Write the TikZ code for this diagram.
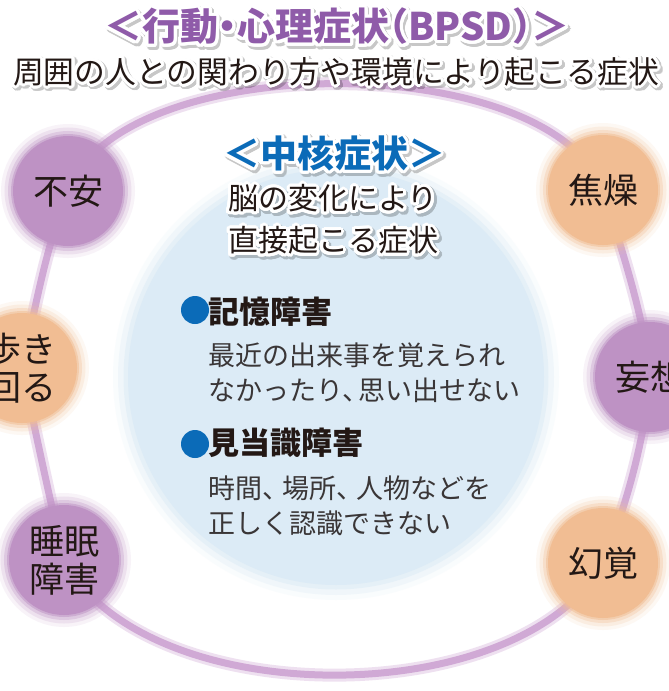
\documentclass[tikz,border=0pt]{standalone}
\usepackage{fontspec}
\setmainfont{Noto Sans CJK JP}
\usepackage{contour}
\contourlength{3pt}
\contournumber{32}
\definecolor{ringc}{HTML}{D0A9D5}
\definecolor{purpn}{HTML}{BE92C4}
\definecolor{orgn}{HTML}{F1BD93}
\definecolor{bluebg}{HTML}{DCEBF6}
\definecolor{titlep}{HTML}{8F5BA9}
\definecolor{blueh}{HTML}{0B6BB8}
\definecolor{txt}{HTML}{231815}
\definecolor{bodytxt}{HTML}{3A3637}
\pgfdeclarelayer{back}
\pgfdeclarelayer{ringlayer}
\pgfsetlayers{back,ringlayer,main}
\tikzset{
  ring/.style={draw=ringc, line width=7pt, preaction={draw=ringc, line width=13pt, draw opacity=.35}},
  softnode/.style={circle, inner sep=0pt, minimum size=110pt, text=txt, align=center,
    font=\fontsize{35}{38}\selectfont,
    preaction={draw=#1, line width=24pt, draw opacity=.10},
    preaction={draw=#1, line width=17pt, draw opacity=.18},
    preaction={draw=#1, line width=10pt, draw opacity=.3},
    preaction={draw=#1, line width=4pt, draw opacity=.5},
    fill=#1},
  titletxt/.style={text=titlep, inner sep=0pt, font=\fontsize{38}{40}\selectfont\bfseries},
  subtxt/.style={text=txt, inner sep=0pt, font=\fontsize{30.8}{32}\selectfont},
  coretitle/.style={text=blueh, inner sep=0pt, font=\fontsize{37}{38}\selectfont\bfseries},
  coretxt/.style={text=txt, inner sep=0pt, font=\fontsize{30}{32}\selectfont},
  shadowtxt/.style={text=black, inner sep=0pt},
  bulletdot/.style={circle, fill=blueh, inner sep=0pt, minimum size=28pt},
  headtxt/.style={text=txt, inner sep=0pt, anchor=west, font=\fontsize{31}{32}\selectfont\bfseries},
  bodyline/.style={text=bodytxt, inner sep=0pt, anchor=west, font=\fontsize{27}{30}\selectfont},
}
\newcommand\titlestr{＜行動\kern-.25em・\kern-.25em 心理症状\kern-.5em（BPSD）\kern-.5em＞}
\newcommand\substr{周囲の人との関わり方や環境により起こる症状}
\begin{document}
\begin{tikzpicture}[x=1pt,y=-1pt]
\useasboundingbox (0,0) rectangle (669,691);
\begin{pgfonlayer}{back}
\fill[white] (0,0) rectangle (669,691);
\fill[bluebg,
  preaction={draw=bluebg, line width=30pt, draw opacity=.15},
  preaction={draw=bluebg, line width=20pt, draw opacity=.3},
  preaction={draw=bluebg, line width=9pt, draw opacity=.5}] (336,377) circle (208pt);
\end{pgfonlayer}

% outer symptom nodes
\node[softnode=purpn] (fuan) at (68,191) {不安};
\node[softnode=orgn] (shoso) at (603,190) {焦燥};
\node[softnode=purpn] (moso) at (650,377) {妄想};
\node[softnode=orgn] (genkaku) at (603,563) {幻覚};
\node[softnode=purpn] (suimin) at (64,560) {睡眠\\障害};
\node[softnode=orgn] (aruki) at (22,368) {歩き\\回る};

\begin{pgfonlayer}{ringlayer}
\draw[ring] (fuan.center) .. controls (122,48) and (550,48) .. (shoso.center);
\draw[ring] (shoso.center) .. controls (622,250) and (645,320) .. (moso.center);
\draw[ring] (moso.center) .. controls (645,440) and (625,510) .. (genkaku.center);
\draw[ring] (genkaku.center) .. controls (520,713) and (145,713) .. (suimin.center);
\draw[ring] (suimin.center) .. controls (50,500) and (35,430) .. (aruki.center);
\draw[ring] (aruki.center) .. controls (35,310) and (45,250) .. (fuan.center);
\end{pgfonlayer}

% soft shadows behind the haloed texts
\begin{scope}[transparency group, opacity=.22]
\contourlength{3.5pt}
\node[shadowtxt, font=\fontsize{38}{40}\selectfont\bfseries] (title-s) at (339,30.5) {\contour{black}{\titlestr}};
\node[shadowtxt, font=\fontsize{30.8}{32}\selectfont] (subtitle-s) at (338,75.5) {\contour{black}{\substr}};
\node[shadowtxt, font=\fontsize{37}{38}\selectfont\bfseries] (core-s) at (336,157.5) {\contour{black}{＜中核症状＞}};
\node[shadowtxt, font=\fontsize{30}{32}\selectfont] (core1-s) at (335,202.5) {\contour{black}{脳の変化により}};
\node[shadowtxt, font=\fontsize{30}{32}\selectfont] (core2-s) at (335,244.5) {\contour{black}{直接起こる症状}};
\end{scope}

% titles
\node[titletxt] (title) at (337,28) {\contour{white}{\titlestr}};
\node[subtxt] (subtitle) at (336,73) {\contour{white}{\substr}};

% core symptoms
\node[coretitle] (core) at (334,155) {\contour{white}{＜中核症状＞}};
\node[coretxt] (core1) at (333,200) {\contour{white}{脳の変化により}};
\node[coretxt] (core2) at (333,242) {\contour{white}{直接起こる症状}};

\node[bulletdot] (b1) at (195,310) {};
\node[headtxt] (h1) at (208,312) {記憶障害};
\node[bodyline] (l1) at (208,355) {最近の出来事を覚えられ};
\node[bodyline] (l2) at (208,390) {なかったり、\kern-0.4em 思い出せない};
\node[bulletdot] (b2) at (195,444) {};
\node[headtxt] (h2) at (208,443) {見当識障害};
\node[bodyline] (l3) at (208,488) {時間、\kern-0.25em 場所、\kern-0.25em 人物などを};
\node[bodyline] (l4) at (208,523) {正しく認識できない};
\end{tikzpicture}
\end{document}
